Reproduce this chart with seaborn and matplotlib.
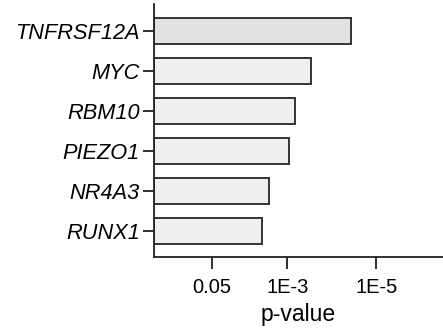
import matplotlib
matplotlib.use("Agg")
import matplotlib.pyplot as plt
import numpy as np
import pandas as pd
import seaborn as sns

# data
genes = ["TNFRSF12A", "MYC", "RBM10", "PIEZO1", "NR4A3", "RUNX1"]
p_values = [3.6e-5, 3.0e-4, 6.6e-4, 9.3e-4, 2.6e-3, 3.6e-3]
tick_p = [0.05, 1e-3, 1e-5]
tick_labels = ["0.05", "1E-3", "1E-5"]
bar_colors = ["#e2e2e2", "#efefef", "#efefef", "#efefef", "#efefef", "#efefef"]

df = pd.DataFrame({"gene": genes, "score": -np.log10(p_values)})

sns.set_style("ticks")
plt.rcParams['font.family'] = ['Liberation Sans', 'DejaVu Sans']

fig = plt.figure(figsize=(4.43, 3.34), dpi=100)
ax = fig.add_axes([0.347, 0.231, 0.653, 0.757])

sns.barplot(data=df, x="score", y="gene", hue="gene", palette=bar_colors,
            orient="h", width=0.64, edgecolor="#333333", linewidth=1.4,
            legend=False, ax=ax)

ax.set_xlim(0, 6.5)
ax.set_ylim(5.64, -0.675)
ax.set_xticks(-np.log10(tick_p))
ax.set_xticklabels(tick_labels, fontsize=14.5)
ax.set_yticks(range(len(genes)))
ax.set_yticklabels(genes, fontsize=15.7, style="italic")
ax.set_xlabel("p-value", fontsize=16.5, labelpad=4, color="black")
ax.set_ylabel("")

for s in ["top", "right"]:
    ax.spines[s].set_visible(False)
for s in ["left", "bottom"]:
    ax.spines[s].set_linewidth(1.3)
    ax.spines[s].set_color("#222222")
ax.tick_params(axis="y", length=8, width=1.3, pad=2, colors="#222222", labelcolor="black")
ax.tick_params(axis="x", length=8.5, width=1.3, pad=7, colors="#222222", labelcolor="black")

fig.savefig("out.png", dpi=100)
